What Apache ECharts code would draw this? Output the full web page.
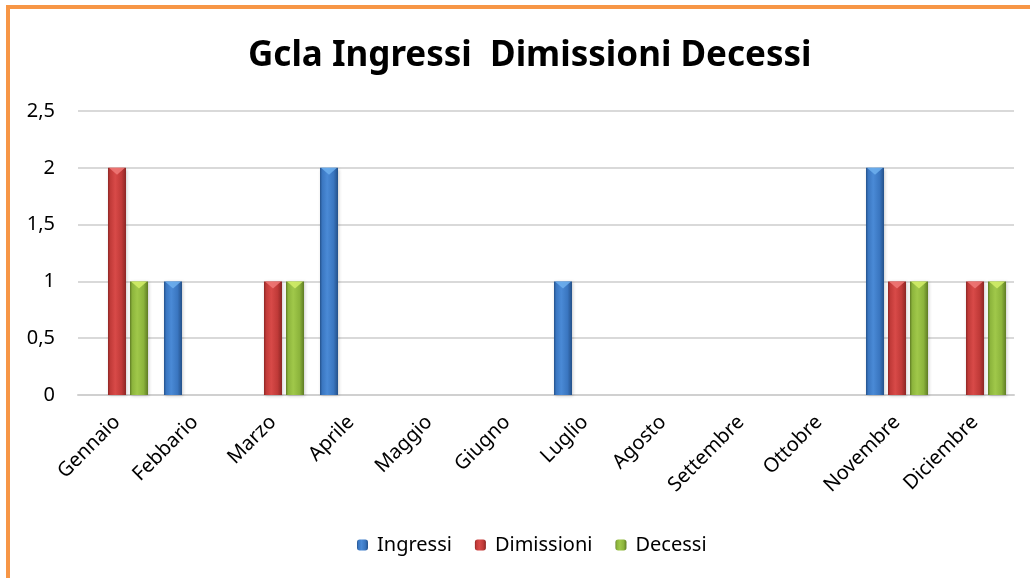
<!DOCTYPE html>
<html>
<head>
<meta charset="utf-8">
<script src="https://cdn.jsdelivr.net/npm/echarts@6/dist/echarts.min.js"></script>
<style>
  html, body { margin: 0; padding: 0; background: #fff; overflow: hidden; }
  #frame { position: absolute; left: 6px; top: 5px; width: 1040px; height: 600px;
           border: 4px solid #f79646; box-sizing: border-box; }
  #chart { position: absolute; left: 0; top: 0; width: 1030px; height: 578px; }
</style>
</head>
<body>
<div id="frame"></div>
<div id="chart"></div>
<script>
// Monthly counts
const months = ['Gennaio', 'Febbario', 'Marzo', 'Aprile', 'Maggio', 'Giugno',
                'Luglio', 'Agosto', 'Settembre', 'Ottobre', 'Novembre', 'Diciembre'];
const ingressi   = [0, 1, 0, 2, 0, 0, 1, 0, 0, 0, 2, 0];
const dimissioni = [2, 0, 1, 0, 0, 0, 0, 0, 0, 0, 1, 1];
const decessi    = [1, 0, 1, 0, 0, 0, 0, 0, 0, 0, 1, 1];
const yTicks = [0, 0.5, 1, 1.5, 2, 2.5];

const FONT = '"Noto Sans", "Open Sans", sans-serif';
const BAR_W = 18;
const BAR_GAP = 4;

// bevelled look: dark edges, light band left of centre
function bevel(dark, mid, light) {
  return new echarts.graphic.LinearGradient(0, 0, 1, 0, [
    { offset: 0, color: dark },
    { offset: 0.12, color: mid },
    { offset: 0.4, color: light },
    { offset: 0.75, color: mid },
    { offset: 1, color: dark }
  ]);
}
const palette = [
  { fill: bevel('#24518a', '#3a76c0', '#4a8ad6'), cap: '#6fb0ee' },
  { fill: bevel('#8c2624', '#c03a38', '#d84a48'), cap: '#f07a78' },
  { fill: bevel('#5f7c24', '#8cb43c', '#a0c84a'), cap: '#d4ee6a' }
];
const names = ['Ingressi', 'Dimissioni', 'Decessi'];
const values = [ingressi, dimissioni, decessi];

function barSeries(i) {
  return {
    name: names[i], type: 'bar', data: values[i],
    barWidth: BAR_W,
    barGap: (BAR_GAP / BAR_W * 100) + '%',
    itemStyle: { color: palette[i].fill, shadowColor: 'rgba(0,0,0,0.2)', shadowBlur: 3, shadowOffsetX: 1, shadowOffsetY: 1 }
  };
}

// bevelled top facet of each bar, placed with the axis scales
function capSeries(i) {
  return {
    name: names[i] + '-cap', type: 'custom', silent: true, z: 3,
    data: values[i].map((v, k) => [k, v]),
    renderItem(params, api) {
      const v = api.value(1);
      if (!v) return null;
      const p = api.coord([api.value(0), v]);
      const cx = p[0] + (i - 1) * (BAR_W + BAR_GAP);
      const x0 = cx - BAR_W / 2, x1 = cx + BAR_W / 2;
      return {
        type: 'polygon',
        shape: { points: [[x0 + 1, p[1]], [x1 - 1, p[1]], [cx, p[1] + 7]] },
        style: { fill: palette[i].cap, opacity: 0.85 }
      };
    }
  };
}

const chart = echarts.init(document.getElementById('chart'), null, { renderer: 'canvas' });
chart.setOption({
  animation: false,
  backgroundColor: 'transparent',
  title: {
    text: 'Gcla Ingressi  Dimissioni Decessi',
    left: 243, top: 34,
    textStyle: { fontFamily: FONT, fontWeight: 'bold', fontSize: 35, color: '#000' }
  },
  legend: {
    top: 530, left: 352,
    itemWidth: 11, itemHeight: 11, itemGap: 23,
    textStyle: { fontFamily: FONT, fontSize: 20, color: '#000', padding: [0, 0, 0, 4] },
    data: names
  },
  grid: { left: 78, right: 16, top: 111, bottom: 183, containLabel: false },
  xAxis: {
    type: 'category', data: months,
    axisLine: { lineStyle: { color: '#d0d0d0', width: 2 } },
    axisTick: { show: false },
    axisLabel: { rotate: 45, margin: 24, fontFamily: FONT, fontSize: 20, color: '#000' }
  },
  yAxis: {
    type: 'value', min: yTicks[0], max: yTicks[yTicks.length - 1], interval: 0.5,
    axisLine: { show: false }, axisTick: { show: false },
    splitLine: { lineStyle: { color: '#d9d9d9', width: 2 } },
    axisLabel: {
      margin: 23, fontFamily: FONT, fontSize: 20, color: '#000',
      formatter: v => String(v).replace('.', ',')
    }
  },
  series: [barSeries(0), barSeries(1), barSeries(2), capSeries(0), capSeries(1), capSeries(2)]
});
</script>
</body>
</html>
